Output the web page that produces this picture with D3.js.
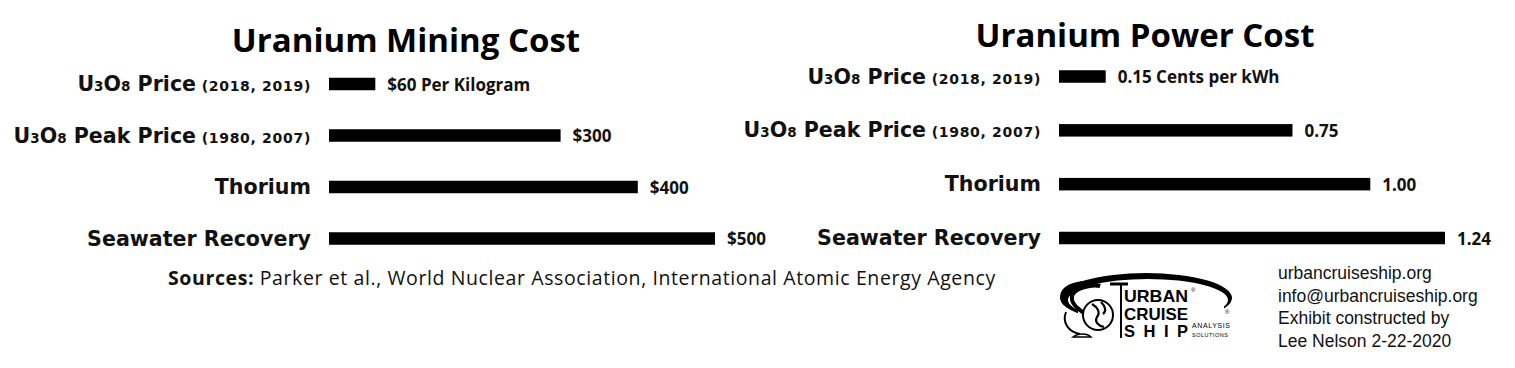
<!DOCTYPE html>
<html><head><meta charset="utf-8">
<script src="https://cdn.jsdelivr.net/npm/d3@7"></script>
<style>body{margin:0;background:#fff;} svg{display:block;}</style>
</head><body>
<svg id="chart" width="1515" height="368"></svg>
<script>
// ---- data ----
const categories = ["U3O8 Price (2018, 2019)", "U3O8 Peak Price (1980, 2007)", "Thorium", "Seawater Recovery"];
const miningValues = [60, 300, 400, 500];
const miningLabels = ["$60 Per Kilogram", "$300", "$400", "$500"];
const powerValues = [0.15, 0.75, 1.00, 1.24];
const powerLabels = ["0.15 Cents per kWh", "0.75", "1.00", "1.24"];
const titles = ["Uranium Mining Cost", "Uranium Power Cost"];
const sourcesBold = "Sources:";
const sourcesText = " Parker et al., World Nuclear Association, International Atomic Energy Agency";
const footerLines = ["urbancruiseship.org", "info@urbancruiseship.org", "Exhibit constructed by", "Lee Nelson 2-22-2020"];

const svg = d3.select("#chart");
const LABEL_FONT = "'DejaVu Sans', sans-serif";
const CAL_FONT = "'Open Sans', 'Liberation Sans', sans-serif";
const ARIAL = "'Liberation Sans', Arial, sans-serif";

function drawLabel(g, text, x, y) {
  const t = g.append("text").attr("x", x).attr("y", y).attr("text-anchor", "end")
    .attr("font-family", LABEL_FONT).attr("font-weight", "bold").attr("font-size", 20.6)
    .attr("fill", "#111");
  const m = text.match(/^(.*?)(\s*\(.*\))?$/);
  const main = m[1], paren = m[2];
  const f = main.match(/(U)(\d)(O)(\d)(.*)/);
  if (f) {
    t.append("tspan").text("U");
    t.append("tspan").attr("font-size", 13.5).text(f[2]);
    t.append("tspan").text("O");
    t.append("tspan").attr("font-size", 13.5).text(f[4]);
    t.append("tspan").text(f[5]);
  } else {
    t.append("tspan").text(main);
  }
  if (paren) {
    t.append("tspan").attr("font-size", 14).attr("letter-spacing", 0.7).text(paren);
  }
}

function panel(opts) {
  const g = svg.append("g");
  const x = d3.scaleLinear().domain([0, d3.max(opts.values)]).range([opts.x0, opts.x0 + 386]);
  const y = d3.scalePoint().domain(categories).range(opts.yRange);
  const bh = 12.5;
  g.append("text").attr("x", opts.titleX).attr("y", opts.titleY).attr("text-anchor", "middle")
    .attr("font-family", CAL_FONT).attr("font-weight", "bold").attr("font-size", 33)
    .attr("fill", "#000").text(opts.title);
  categories.forEach((c, i) => {
    g.append("rect").attr("x", x(0)).attr("y", y(c) - bh / 2)
      .attr("width", x(opts.values[i]) - x(0)).attr("height", bh).attr("fill", "#000");
    g.append("text").attr("x", x(opts.values[i]) + 12).attr("y", y(c) + 6.5)
      .attr("font-family", CAL_FONT).attr("font-weight", "bold").attr("font-size", 17)
      .attr("fill", "#111").text(opts.labels[i]);
    drawLabel(g, c, opts.labelX, y(c) + 7);
  });
}

panel({values: miningValues, labels: miningLabels, title: titles[0], x0: 329, yRange: [84, 238.5],
  titleX: 406, titleY: 52, labelX: 311});
panel({values: powerValues, labels: powerLabels, title: titles[1], x0: 1059, yRange: [76.5, 238],
  titleX: 1145, titleY: 47, labelX: 1041});

// sources
const s = svg.append("text").attr("x", 168).attr("y", 285)
  .attr("font-family", CAL_FONT).attr("font-size", 19.5).attr("letter-spacing", 0.6).attr("fill", "#111");
s.append("tspan").attr("font-weight", "bold").text(sourcesBold);
s.append("tspan").text(sourcesText);

// footer
svg.append("g").selectAll("text").data(footerLines).join("text")
  .attr("x", 1278).attr("y", (d, i) => 279 + i * 22.6)
  .attr("font-family", ARIAL).attr("font-size", 17.5)
  .attr("fill", "#111").text(d => d);

// logo (approximation)
const L = svg.append("g");
L.append("path")
  .attr("d", "M1060,298 a86,25 0 1,0 172,0 a86,25 0 1,0 -172,0 Z M1068,300 a80,21 0 1,0 160,0 a80,21 0 1,0 -160,0 Z")
  .attr("fill", "#000").attr("fill-rule", "evenodd");
L.append("rect").attr("x", 1078).attr("y", 304).attr("width", 146).attr("height", 40).attr("fill", "#fff");
L.append("rect").attr("x", 1224).attr("y", 312).attr("width", 12).attr("height", 30).attr("fill", "#fff");
// S-curl on the left
L.append("path").attr("d", "M1062,296 C1064,284 1086,280 1100,286 C1092,284 1074,288 1072,296 C1070,306 1084,312 1090,318")
  .attr("fill", "none").attr("stroke", "#000").attr("stroke-width", 4);
L.append("path").attr("d", "M1066,312 C1062,322 1068,332 1080,334")
  .attr("fill", "none").attr("stroke", "#000").attr("stroke-width", 2);
// globe
L.append("circle").attr("cx", 1098).attr("cy", 315).attr("r", 15).attr("fill", "#fff").attr("stroke", "#000").attr("stroke-width", 2);
L.append("path").attr("d", "M1092,304 c5,3 9,8 5,13 c-3,5 2,9 7,10 M1101,302 c4,4 6,9 2,12")
  .attr("fill", "none").attr("stroke", "#000").attr("stroke-width", 2.2);
L.append("path").attr("d", "M1073,337 c5,-4 14,-4 18,0 z").attr("fill", "none").attr("stroke", "#000").attr("stroke-width", 1.5);
// post
L.append("line").attr("x1", 1121).attr("y1", 284).attr("x2", 1121).attr("y2", 338).attr("stroke", "#000").attr("stroke-width", 2);
L.append("path").attr("d", "M1110,284 L1128,284").attr("stroke", "#000").attr("stroke-width", 3);
// wordmark
[["URBAN", 302], ["CRUISE", 319.5], ["SHIP", 337]].forEach(([t, yy]) => {
  L.append("text").attr("x", 1124).attr("y", yy).attr("font-family", ARIAL).attr("font-weight", "bold")
    .attr("font-size", 16.5).attr("textLength", 64).attr("lengthAdjust", t === "SHIP" ? "spacing" : "spacingAndGlyphs").text(t);
});
L.append("text").attr("x", 1192).attr("y", 328).attr("font-family", ARIAL).attr("font-size", 7).attr("textLength", 38).text("ANALYSIS");
L.append("text").attr("x", 1192).attr("y", 337).attr("font-family", ARIAL).attr("font-size", 5.5).attr("textLength", 36).text("SOLUTIONS");
L.append("text").attr("x", 1191).attr("y", 292).attr("font-family", ARIAL).attr("font-size", 6).text("®");
L.append("text").attr("x", 1225).attr("y", 314).attr("font-family", ARIAL).attr("font-size", 6).text("®");
</script>
</body></html>
